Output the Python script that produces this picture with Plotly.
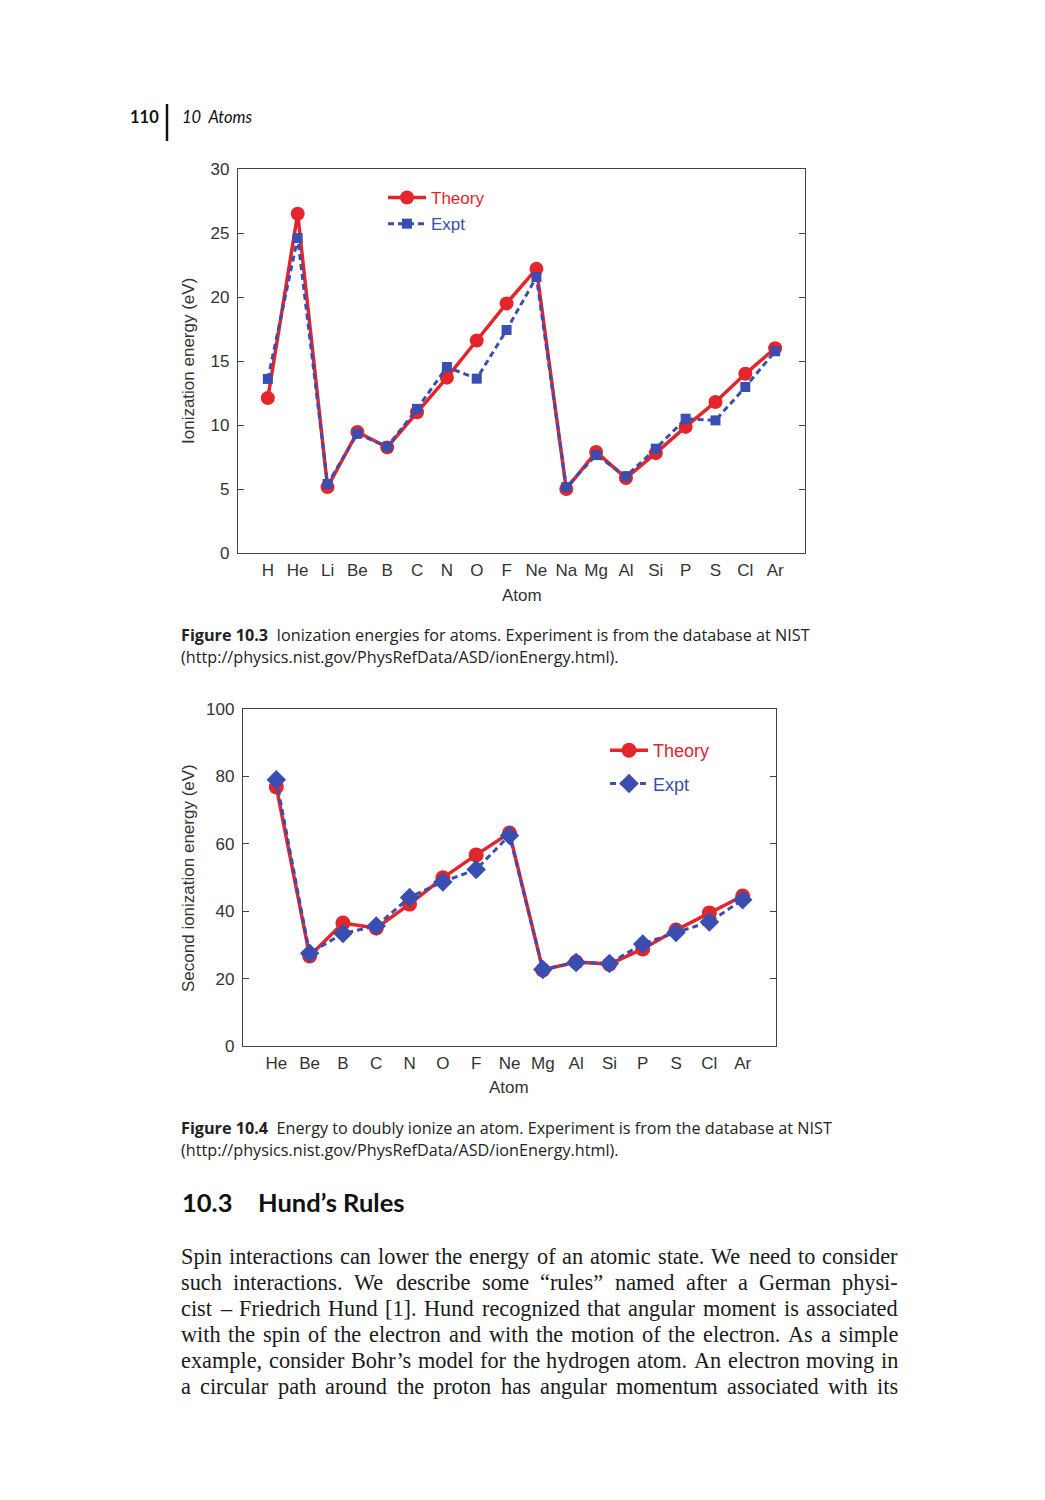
import plotly.graph_objects as go

# ---------------- data ----------------
atoms1 = ["H", "He", "Li", "Be", "B", "C", "N", "O", "F", "Ne",
          "Na", "Mg", "Al", "Si", "P", "S", "Cl", "Ar"]
theory1 = [12.1, 26.5, 5.15, 9.45, 8.25, 11.0, 13.7, 16.6, 19.5, 22.2,
           5.0, 7.9, 5.85, 7.8, 9.85, 11.8, 14.0, 16.0]
expt1 = [13.6, 24.6, 5.39, 9.32, 8.30, 11.26, 14.53, 13.62, 17.42, 21.56,
         5.14, 7.65, 5.99, 8.15, 10.49, 10.36, 12.97, 15.76]

atoms2 = ["He", "Be", "B", "C", "N", "O", "F", "Ne",
          "Mg", "Al", "Si", "P", "S", "Cl", "Ar"]
theory2 = [76.9, 26.7, 36.5, 35.0, 42.1, 49.9, 56.7, 63.2,
           22.6, 24.9, 24.3, 28.8, 34.4, 39.5, 44.5]
expt2 = [79.0, 27.5, 33.4, 35.6, 44.1, 48.7, 52.4, 62.5,
         22.7, 24.8, 24.5, 30.3, 33.7, 36.8, 43.4]

yticks1 = [0, 5, 10, 15, 20, 25, 30]
yticks2 = [0, 20, 40, 60, 80, 100]

body = [
    "Spin interactions can lower the energy of an atomic state. We need to consider",
    "such interactions. We describe some “rules” named after a German physi-",
    "cist – Friedrich Hund [1]. Hund recognized that angular moment is associated",
    "with the spin of the electron and with the motion of the electron. As a simple",
    "example, consider Bohr’s model for the hydrogen atom. An electron moving in",
    "a circular path around the proton has angular momentum associated with its",
]

RED = "#E2262B"
BLUE = "#3A4DB0"
W, H = 1045, 1500
AXFONT = "Liberation Sans, Arial, sans-serif"
CAPFONT = "Open Sans, sans-serif"
HEADFONT = "Lato, sans-serif"
SERIF = "Liberation Serif, Times New Roman, serif"


def px(x):
    return x / W


def py(y):
    return 1 - y / H


fig = go.Figure()

fig.add_trace(go.Scatter(x=atoms1, y=theory1, mode="lines+markers",
                         name="<span style='color:%s'>Theory</span>" % RED,
                         legendgroup="t1",
                         line=dict(color=RED, width=3.5),
                         marker=dict(symbol="circle", size=14, color=RED),
                         xaxis="x", yaxis="y", legend="legend"))
fig.add_trace(go.Scatter(x=atoms1, y=expt1, mode="lines+markers",
                         name="<span style='color:%s'>Expt</span>" % BLUE,
                         legendgroup="e1",
                         line=dict(color=BLUE, width=3, dash="6px,4px"),
                         marker=dict(symbol="square", size=10, color=BLUE),
                         xaxis="x", yaxis="y", legend="legend"))
fig.add_trace(go.Scatter(x=atoms2, y=theory2, mode="lines+markers",
                         name="<span style='color:%s'>Theory</span>" % RED,
                         legendgroup="t2",
                         line=dict(color=RED, width=3.5),
                         marker=dict(symbol="circle", size=15, color=RED),
                         xaxis="x2", yaxis="y2", legend="legend2"))
fig.add_trace(go.Scatter(x=atoms2, y=expt2, mode="lines+markers",
                         name="<span style='color:%s'>Expt</span>" % BLUE,
                         legendgroup="e2",
                         line=dict(color=BLUE, width=3, dash="6px,4px"),
                         marker=dict(symbol="diamond", size=15, color=BLUE),
                         xaxis="x2", yaxis="y2", legend="legend2"))

d1x = [px(238), px(805)]
d1y = [py(553), py(169)]
d2x = [px(243), px(776)]
d2y = [py(1046), py(709)]

tickf = dict(family=AXFONT, size=17, color="#333333")

xax = dict(type="category", showline=True, mirror=True, linecolor="#444",
           linewidth=1.3, showgrid=False, zeroline=False, ticks="",
           tickfont=tickf, ticklabelstandoff=1, automargin=False)
yax = dict(showline=True, mirror="ticks", linecolor="#444", linewidth=1.3,
           showgrid=False, zeroline=False, ticks="inside", ticklen=6,
           tickcolor="#444", tickfont=tickf, ticklabelstandoff=4,
           automargin=False)

fig.update_layout(
    width=W, height=H, margin=dict(l=0, r=0, t=0, b=0, autoexpand=False),
    paper_bgcolor="white", plot_bgcolor="white",
    xaxis=dict(xax, domain=d1x, anchor="y", range=[-1, 18]),
    yaxis=dict(yax, domain=d1y, anchor="x", range=[0, 30], tickvals=yticks1),
    xaxis2=dict(xax, domain=d2x, anchor="y2", range=[-1, 15]),
    yaxis2=dict(yax, domain=d2y, anchor="x2", range=[0, 100], tickvals=yticks2),
    legend=dict(x=px(383), y=py(180), xanchor="left", yanchor="top",
                bgcolor="rgba(0,0,0,0)", font=dict(family=AXFONT, size=17),
                itemwidth=38, tracegroupgap=1),
    legend2=dict(x=px(605), y=py(732), xanchor="left", yanchor="top",
                 bgcolor="rgba(0,0,0,0)", font=dict(family=AXFONT, size=18),
                 itemwidth=38, tracegroupgap=7),
    showlegend=True,
)

ann = []


def A(text, x, y, size, family, xanchor="left", yanchor="middle",
      color="#222", angle=0):
    ann.append(dict(text=text, x=px(x), y=py(y), xref="paper", yref="paper",
                    showarrow=False, xanchor=xanchor, yanchor=yanchor,
                    font=dict(size=size, family=family, color=color),
                    textangle=angle, borderpad=0))


# axis titles
A("Ionization energy (eV)", 188, 361, 17, AXFONT, "center", "middle", "#333", -90)
A("Atom", 522, 595, 17, AXFONT, "center", "middle", "#333")
A("Second ionization energy (eV)", 188, 878, 17, AXFONT, "center", "middle", "#333", -90)
A("Atom", 509, 1087, 17, AXFONT, "center", "middle", "#333")

# page header
A("<b>110</b>", 160, 117, 16.5, HEADFONT, "right", "middle", "#111")
A("<i>10  Atoms</i>", 181, 117, 16.5, HEADFONT, "left", "middle", "#111")

# captions
CAPSIZE = 16.2
A("<b>Figure 10.3</b>  Ionization energies for atoms. Experiment is from the database at NIST",
  180, 635, CAPSIZE, CAPFONT)
A("(http://physics.nist.gov/PhysRefData/ASD/ionEnergy.html).", 180, 657, CAPSIZE, CAPFONT)
A("<b>Figure 10.4</b>  Energy to doubly ionize an atom. Experiment is from the database at NIST",
  180, 1128, CAPSIZE, CAPFONT)
A("(http://physics.nist.gov/PhysRefData/ASD/ionEnergy.html).", 180, 1150, CAPSIZE, CAPFONT)

# heading
A("<b>10.3</b>", 181, 1202, 25.5, HEADFONT, "left", "middle", "#111")
A("<b>Hund’s Rules</b>", 257, 1202, 25.5, HEADFONT, "left", "middle", "#111")

# justified body text (Times-compatible advance widths, per 1000 em)
TW = {' ': 250, '.': 250, ',': 250, '-': 333, '–': 500, '[': 333, ']': 333,
      '’': 333, '“': 444, '”': 444}
TW.update(dict(zip("abcdefghijklmnopqrstuvwxyz",
                   [444, 500, 444, 500, 444, 333, 500, 500, 278, 278, 500, 278, 778,
                    500, 500, 500, 500, 333, 389, 278, 500, 500, 722, 500, 500, 444])))
TW.update(dict(zip("ABCDEFGHIJKLMNOPQRSTUVWXYZ",
                   [722, 667, 667, 722, 611, 556, 722, 722, 333, 389, 722, 611, 889,
                    722, 722, 556, 722, 667, 556, 611, 722, 722, 944, 722, 722, 611])))
for dch in "0123456789":
    TW[dch] = 500

BODY_SIZE = 22.3
LEFT, RIGHT = 180, 897


def wwidth(word):
    return sum(TW.get(c, 500) for c in word) * BODY_SIZE / 1000.0


for i, line in enumerate(body):
    words = line.split(" ")
    widths = [wwidth(w) for w in words]
    gap = (RIGHT - LEFT - sum(widths)) / (len(words) - 1)
    x = LEFT
    for w, wd in zip(words, widths):
        A(w, x, 1256 + 26 * i, BODY_SIZE, SERIF, "left", "middle", "#1a1a1a")
        x += wd + gap

fig.update_layout(annotations=ann)

fig.add_shape(type="line", xref="paper", yref="paper",
              x0=px(167), x1=px(167), y0=py(104), y1=py(141),
              line=dict(color="#111", width=2.5))

fig.write_html("out.html",
               config={"displayModeBar": False},
               post_script="document.body.style.margin='0';"
                           "document.body.style.overflow='hidden';")
